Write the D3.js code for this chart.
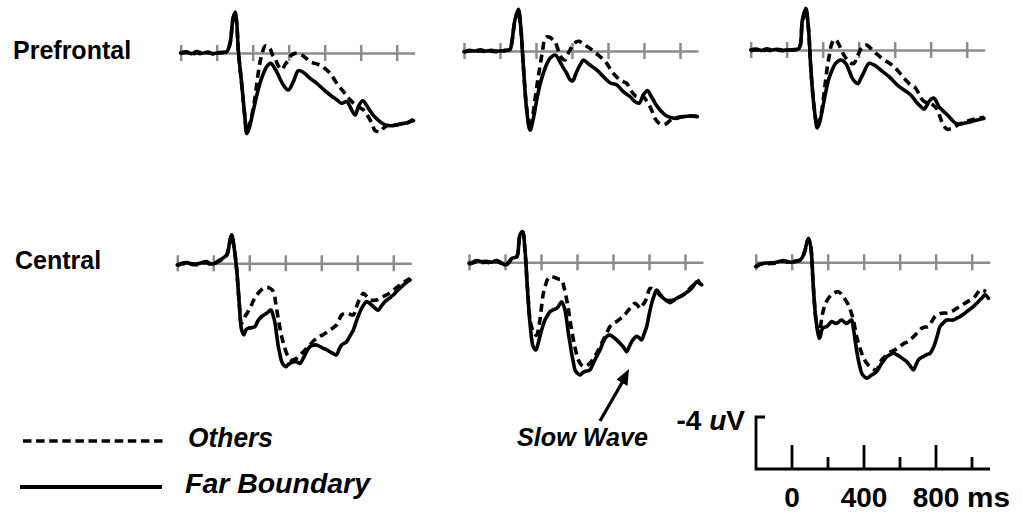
<!DOCTYPE html>
<html>
<head>
<meta charset="utf-8">
<script src="https://cdn.jsdelivr.net/npm/d3@7"></script>
<style>
  body { margin: 0; background: #fff; }
  svg { display: block; }
  text { font-family: "Liberation Sans", Arial, Helvetica, sans-serif; font-weight: bold; fill: #000; }
</style>
</head>
<body>
<svg id="chart" width="1022" height="514"></svg>
<script>
// ---- Grand-average ERP waveforms: [time (ms), amplitude (uV)], negative plotted up ----
const regions = ["Prefrontal", "Central"];
const timeTicks = [-200, 0, 200, 400, 600, 800, 1000];
const scaleTicks = [0, 200, 400, 600, 800, 1000];
const scaleLabels = [0, 400, 800];
const legendLabels = ["Others", "Far Boundary"];

const pf1Far = [[-200,0],[-170,-0.1],[-140,0.05],[-110,-0.12],[-80,0.02],[-50,-0.08],[-20,0.05],[0,0],[30,-0.05],[56,-0.1],[75,-0.8],[90,-2.6],[102,-3.15],[112,-2.2],[120,-0.2],[139,2.4],[157,5.0],[167,6.2],[178,5.9],[204,4.4],[241,2.3],[278,1.05],[300,0.8],[333,1.44],[370,2.46],[398,2.85],[426,2.2],[454,1.36],[482,1.5],[519,1.95],[556,2.33],[593,2.8],[630,3.23],[667,3.6],[694,3.87],[722,3.74],[750,4.38],[769,4.77],[787,4.13],[811,3.67],[843,4.26],[880,4.95],[926,5.46],[963,5.6],[1019,5.46],[1056,5.36],[1093,5.2]];
const pf1Oth = [[-200,0.05],[-170,-0.05],[-140,0.1],[-110,0],[-80,0.08],[-50,-0.02],[-20,0.08],[0,0.02],[30,-0.02],[56,-0.1],[75,-0.8],[90,-2.6],[102,-3.05],[112,-2.1],[120,-0.2],[139,2.4],[157,5.0],[167,6.0],[180,5.6],[194,4.9],[213,3.4],[228,1.8],[241,0.7],[255,-0.1],[269,-0.54],[283,-0.5],[296,-0.36],[310,0.15],[324,0.41],[343,1.0],[361,1.26],[380,0.9],[398,0.54],[417,0.15],[435,0.03],[454,0.05],[472,0.15],[496,0.4],[519,0.67],[546,0.8],[574,0.92],[602,1.2],[630,1.56],[667,2.33],[704,2.97],[741,3.6],[778,4.08],[815,4.38],[833,4.7],[852,5.15],[867,5.6],[880,5.97],[907,6.05],[926,5.8],[944,5.6],[972,5.5],[1000,5.54],[1028,5.45],[1056,5.4],[1093,5.1]];

const pf2Far = [[-200,0.05],[-170,-0.05],[-140,0],[-110,-0.1],[-80,0],[-50,-0.05],[-20,0],[0,0],[30,-0.05],[56,-0.13],[65,-0.6],[83,-2.4],[102,-3.2],[115,-1.9],[130,1.2],[148,4.5],[167,6.1],[185,5.2],[204,3.77],[222,2.6],[241,1.7],[260,1.0],[278,0.56],[306,0.31],[333,0.82],[352,1.3],[370,1.7],[389,2.2],[404,2.3],[420,1.8],[435,1.33],[450,0.95],[463,0.69],[480,0.85],[500,1.08],[537,1.46],[574,1.97],[611,2.44],[648,2.6],[685,3.13],[722,3.5],[750,3.9],[774,4.0],[796,3.38],[820,3.05],[836,3.4],[852,3.77],[870,4.2],[889,4.54],[912,4.85],[935,5.05],[960,5.15],[981,5.18],[1000,5.1],[1019,5.05],[1056,5.0],[1096,5.05]];
const pf2Oth = [[-200,0.1],[-170,0],[-140,0.05],[-110,0],[-80,0.05],[-50,0.02],[-20,0.05],[0,0.02],[30,-0.03],[56,-0.12],[65,-0.6],[83,-2.3],[102,-3.1],[115,-1.85],[130,1.2],[148,4.4],[167,6.0],[180,5.2],[194,3.77],[208,2.4],[222,1.2],[236,0.0],[250,-0.97],[264,-1.1],[278,-1.05],[292,-0.9],[306,-0.72],[320,-0.2],[333,0.31],[347,0.6],[361,0.69],[375,0.3],[389,-0.08],[407,-0.5],[426,-0.72],[440,-0.75],[454,-0.64],[477,-0.4],[500,-0.2],[523,0.05],[546,0.31],[570,0.6],[593,0.95],[611,1.35],[630,1.72],[648,2.0],[667,2.23],[685,2.35],[704,2.49],[718,2.8],[732,3.13],[745,3.35],[759,3.5],[778,3.45],[796,3.5],[815,3.85],[833,4.28],[847,4.7],[861,5.18],[875,5.45],[889,5.6],[905,5.65],[922,5.6],[940,5.4],[963,5.18],[990,5.1],[1019,5.05],[1056,5.0],[1096,5.0]];

const pf3Far = [[-200,0],[-170,-0.08],[-140,0.03],[-110,-0.1],[-80,0],[-50,-0.06],[-20,0.02],[0,0],[40,-0.03],[69,-0.13],[87,-2.3],[106,-3.2],[120,-1.8],[137,2.05],[156,4.87],[170,6.0],[184,5.5],[198,4.6],[216,3.3],[235,2.18],[254,1.5],[272,1.03],[300,0.77],[328,1.03],[347,1.6],[365,2.18],[380,2.45],[396,2.6],[411,2.2],[426,1.8],[441,1.35],[457,1.03],[485,1.15],[522,1.54],[569,2.05],[615,2.7],[652,3.08],[689,3.46],[726,4.1],[745,4.35],[763,4.56],[777,4.3],[791,3.97],[805,3.75],[819,3.7],[833,4.0],[846,4.36],[870,4.7],[893,5.0],[916,5.35],[939,5.64],[962,5.7],[985,5.64],[1013,5.55],[1041,5.44],[1069,5.35],[1096,5.26]];
const pf3Oth = [[-200,0.05],[-170,0],[-140,0.08],[-110,0],[-80,0.06],[-50,0],[-20,0.06],[0,0.02],[40,0],[69,-0.12],[87,-2.2],[106,-3.1],[120,-1.75],[137,2.0],[156,4.8],[170,5.9],[184,5.4],[198,4.36],[212,2.8],[226,1.28],[237,0.4],[248,-0.38],[258,-0.7],[267,-0.82],[283,-0.6],[300,-0.13],[318,0.4],[337,0.77],[355,1.0],[374,1.03],[392,0.5],[411,-0.05],[427,-0.3],[444,-0.38],[465,-0.15],[485,0.13],[513,0.45],[541,0.77],[569,1.0],[596,1.28],[624,1.7],[652,2.18],[671,2.45],[689,2.7],[703,2.8],[717,2.95],[736,3.4],[754,3.85],[777,4.05],[800,4.1],[818,4.3],[837,4.6],[851,5.1],[865,5.64],[879,5.95],[893,6.1],[912,6.05],[930,5.95],[953,5.75],[976,5.6],[1008,5.45],[1041,5.33],[1069,5.25],[1096,5.18]];

const c1Far = [[-200,0.13],[-175,0],[-148,-0.05],[-120,0.03],[-93,0.05],[-65,-0.05],[-37,-0.13],[-18,0.02],[0,0.05],[37,-0.26],[74,-0.64],[93,-1.8],[102,-2.2],[115,-1.28],[130,0.5],[144,3.08],[157,5.1],[170,5.5],[182,5.1],[194,5.0],[212,4.95],[231,4.87],[245,4.5],[259,4.23],[278,4.0],[296,3.85],[320,3.6],[332,4.0],[343,4.6],[352,5.5],[361,6.4],[370,7.0],[380,7.56],[392,7.85],[404,7.95],[415,7.8],[426,7.7],[440,7.6],[454,7.56],[468,7.6],[481,7.7],[500,7.3],[518,6.8],[537,6.4],[555,6.3],[574,6.28],[592,6.4],[611,6.54],[630,6.65],[648,6.8],[667,6.95],[685,7.05],[699,6.6],[713,6.28],[727,6.15],[741,6.03],[759,5.6],[778,5.13],[796,4.4],[815,3.72],[833,3.25],[852,2.95],[870,3.1],[889,3.33],[903,3.5],[917,3.6],[935,3.25],[954,2.95],[977,2.7],[1000,2.44],[1023,2.1],[1046,1.8],[1070,1.5],[1093,1.28]];
const c1Oth = [[-200,0.18],[-175,0.05],[-148,0],[-120,0.08],[-93,0.1],[-65,0],[-37,-0.05],[-18,0.08],[0,0.05],[37,-0.2],[74,-0.6],[93,-1.75],[102,-2.15],[115,-1.25],[130,0.5],[144,3.0],[157,4.6],[176,4.1],[204,3.46],[222,2.9],[241,2.44],[259,2.15],[278,1.92],[296,1.85],[315,1.92],[327,2.05],[337,2.3],[346,3.0],[356,3.85],[368,4.8],[380,5.64],[393,6.3],[407,6.92],[421,7.25],[435,7.44],[449,7.4],[463,7.3],[481,7.05],[500,6.8],[518,6.55],[537,6.28],[555,6.0],[574,5.77],[592,5.6],[611,5.5],[630,5.3],[648,5.13],[667,4.95],[685,4.74],[699,4.35],[713,3.97],[731,3.85],[750,3.85],[764,3.95],[778,3.97],[792,3.5],[806,2.95],[820,2.6],[833,2.3],[852,2.55],[870,2.82],[889,2.85],[907,2.82],[926,2.7],[944,2.56],[967,2.4],[991,2.18],[1014,1.92],[1037,1.67],[1065,1.4],[1093,1.15]];

const c2Far = [[-200,0.08],[-180,0],[-157,-0.13],[-130,-0.05],[-102,-0.08],[-74,0],[-46,-0.13],[-20,0.05],[0,0.2],[20,0],[37,-0.3],[65,-0.44],[83,-2.1],[98,-2.36],[111,-0.95],[124,1.87],[139,4.7],[157,6.5],[172,6.74],[183,6.3],[194,5.7],[208,5.0],[222,4.44],[236,4.1],[250,3.8],[268,3.65],[287,3.54],[301,3.3],[315,3.03],[333,3.67],[343,4.5],[352,5.46],[361,6.2],[370,7.0],[380,7.7],[389,8.28],[403,8.55],[417,8.67],[431,8.5],[444,8.4],[458,8.35],[472,8.28],[486,7.9],[500,7.5],[514,7.1],[528,6.74],[542,6.25],[556,5.85],[570,5.65],[583,5.6],[597,5.7],[611,5.85],[630,6.1],[648,6.36],[662,6.6],[676,6.87],[690,6.5],[704,6.1],[718,5.85],[731,5.7],[745,5.8],[759,5.97],[773,5.5],[787,4.95],[801,4.0],[815,3.15],[829,2.55],[843,2.13],[861,2.45],[880,2.77],[898,2.95],[917,3.1],[935,2.95],[954,2.77],[972,2.65],[991,2.5],[1010,2.3],[1028,2.13],[1046,1.85],[1065,1.5],[1079,1.6],[1093,1.74]];
const c2Oth = [[-200,0.15],[-180,0.05],[-157,-0.05],[-130,0.02],[-102,0],[-74,0.05],[-46,-0.05],[-20,0.1],[0,0.25],[20,0.05],[37,-0.25],[65,-0.4],[83,-2.05],[98,-2.3],[111,-0.9],[124,1.85],[139,4.4],[148,5.0],[162,5.5],[176,5.6],[185,5.2],[194,4.44],[204,3.3],[213,2.38],[224,1.8],[235,1.36],[247,1.15],[259,1.1],[273,1.15],[287,1.23],[301,1.3],[315,1.36],[329,2.0],[343,2.9],[352,3.6],[361,4.44],[370,5.2],[380,5.97],[393,6.8],[407,7.5],[421,7.85],[435,8.0],[454,7.95],[472,7.77],[490,7.4],[509,7.0],[528,6.5],[546,5.97],[565,5.45],[583,4.95],[602,4.7],[620,4.56],[639,4.35],[657,4.18],[676,3.85],[694,3.54],[708,3.3],[722,3.15],[736,3.3],[750,3.54],[764,3.3],[778,3.03],[792,2.5],[806,2.0],[824,2.1],[843,2.26],[866,2.6],[889,2.9],[912,2.95],[935,2.9],[963,2.7],[991,2.5],[1014,2.2],[1037,1.87],[1060,1.6],[1083,1.36]];

const c3Far = [[-200,0.33],[-180,0.15],[-157,0.08],[-130,0.05],[-102,0.03],[-74,-0.05],[-46,-0.13],[-20,-0.05],[0,0],[20,-0.1],[46,-0.18],[60,-0.4],[74,-0.95],[93,-1.85],[106,-1.2],[120,1.87],[135,4.44],[154,5.85],[161,5.6],[167,5.2],[180,5.0],[194,4.95],[208,4.75],[222,4.56],[236,4.65],[250,4.7],[264,4.55],[278,4.44],[292,4.6],[306,4.7],[320,4.55],[333,4.44],[343,5.1],[352,5.97],[361,6.8],[370,7.5],[380,8.1],[389,8.54],[403,8.8],[417,8.92],[431,8.8],[444,8.67],[458,8.55],[472,8.4],[486,8.1],[500,7.77],[514,7.5],[528,7.26],[546,7.1],[565,7.0],[583,7.1],[602,7.26],[620,7.45],[639,7.64],[657,7.95],[676,8.28],[690,7.9],[704,7.5],[718,7.35],[731,7.26],[750,7.1],[769,7.0],[782,6.7],[796,6.23],[810,5.6],[824,4.95],[843,4.65],[861,4.44],[880,4.44],[898,4.44],[917,4.3],[935,4.18],[954,4.0],[972,3.8],[991,3.6],[1009,3.41],[1028,3.15],[1046,2.9],[1060,2.7],[1074,2.5],[1093,2.77]];
const c3Oth = [[-200,0.38],[-180,0.2],[-157,0.12],[-130,0.1],[-102,0.08],[-74,0],[-46,-0.08],[-20,0],[0,0.05],[20,-0.05],[46,-0.15],[60,-0.38],[74,-0.9],[93,-1.8],[106,-1.15],[120,1.85],[135,4.4],[150,5.4],[157,5.2],[166,4.4],[176,3.67],[190,3.1],[204,2.77],[218,2.55],[231,2.38],[245,2.3],[259,2.26],[273,2.4],[287,2.64],[301,2.95],[315,3.28],[329,3.8],[343,4.44],[352,5.1],[361,5.72],[375,6.4],[389,7.0],[403,7.45],[417,7.77],[431,8.0],[444,8.15],[458,8.25],[472,8.28],[486,7.9],[500,7.5],[518,7.25],[537,7.0],[555,6.85],[574,6.74],[592,6.55],[611,6.36],[630,6.2],[648,6.1],[667,5.85],[685,5.6],[704,5.35],[722,5.08],[741,4.98],[759,4.95],[778,4.55],[796,4.18],[815,4.0],[833,3.92],[852,3.9],[870,3.92],[894,3.75],[917,3.54],[940,3.35],[963,3.15],[986,2.95],[1009,2.77],[1028,2.45],[1046,2.13],[1063,2.15],[1080,2.26]];

// panels by row (region) and column
const panelSeries = [
  [[pf1Far, pf1Oth], [pf2Far, pf2Oth], [pf3Far, pf3Oth]],
  [[c1Far, c1Oth], [c2Far, c2Oth], [c3Far, c3Oth]]
];

// ---- layout ----
const panelLeft = [[180.7, 464, 750.7], [177.3, 469, 755.7]];
const panelZeroY = [[53, 51, 50], [263.3, 262.3, 262.3]];
const axisGray = "#8c8c8c";
const curveWidth = 3.6;

const svg = d3.select("#chart");

// time scale (-200 .. 1100 ms) and amplitude scale (13 px per uV, negative up)
const x = d3.scaleLinear().domain([-200, 1100]).range([0, 234]);
const y = d3.scaleLinear().domain([-4, 0]).range([-52, 0]);

const line = d3.line()
  .x(d => x(d[0]))
  .y(d => y(d[1]))
  .curve(d3.curveCatmullRom.alpha(0.5));

// region labels
const regionLabelPos = [[13, 59], [15, 269]];
regions.forEach((name, r) => {
  svg.append("text")
    .attr("x", regionLabelPos[r][0])
    .attr("y", regionLabelPos[r][1])
    .style("font-size", "25px")
    .text(name);
});

panelSeries.forEach((row, r) => {
  row.forEach((pair, c) => {
    const g = svg.append("g")
      .attr("transform", `translate(${panelLeft[r][c]},${panelZeroY[r][c]})`);

    // zero line with crossing ticks every 200 ms
    const ax = g.append("g")
      .call(d3.axisBottom(x).tickValues(timeTicks).tickSize(16).tickSizeOuter(0).tickFormat(""));
    ax.select(".domain").attr("stroke", axisGray).attr("stroke-width", 2.5);
    ax.selectAll(".tick line")
      .attr("y1", -8).attr("y2", 8)
      .attr("stroke", axisGray).attr("stroke-width", 2.5);

    const [far, others] = pair;
    g.append("path")
      .datum(others)
      .attr("d", line)
      .attr("fill", "none")
      .attr("stroke", "#000")
      .attr("stroke-width", curveWidth)
      .attr("stroke-dasharray", "8,5")
      .attr("stroke-linejoin", "round");
    g.append("path")
      .datum(far)
      .attr("d", line)
      .attr("fill", "none")
      .attr("stroke", "#000")
      .attr("stroke-width", curveWidth)
      .attr("stroke-linejoin", "round")
      .attr("stroke-linecap", "round");
  });
});

// ---- legend ----
const legend = svg.append("g");
legend.append("line")
  .attr("x1", 23).attr("x2", 166).attr("y1", 441).attr("y2", 441)
  .attr("stroke", "#000").attr("stroke-width", 3.6).attr("stroke-dasharray", "8.5,4.6");
legend.append("line")
  .attr("x1", 20).attr("x2", 162).attr("y1", 487).attr("y2", 487)
  .attr("stroke", "#000").attr("stroke-width", 3.8);
legend.append("text").attr("x", 188).attr("y", 447)
  .attr("textLength", 85).attr("lengthAdjust", "spacingAndGlyphs")
  .style("font-size", "27px").style("font-style", "italic").text(legendLabels[0]);
legend.append("text").attr("x", 185).attr("y", 493)
  .attr("textLength", 185).attr("lengthAdjust", "spacingAndGlyphs")
  .style("font-size", "27px").style("font-style", "italic").text(legendLabels[1]);

// ---- slow wave annotation ----
const ann = svg.append("g");
ann.append("line")
  .attr("x1", 600).attr("y1", 421).attr("x2", 623).attr("y2", 381)
  .attr("stroke", "#000").attr("stroke-width", 3.2);
ann.append("polygon")
  .attr("points", "629,369 627.5,386 616.5,379.5")
  .attr("fill", "#000");
ann.append("text").attr("x", 517).attr("y", 446)
  .attr("textLength", 131).attr("lengthAdjust", "spacingAndGlyphs")
  .style("font-size", "25px").style("font-style", "italic").text("Slow Wave");

// ---- calibration bar ----
const sb = svg.append("g").attr("transform", "translate(756,469)");
sb.append("path")
  .attr("d", `M9,${y(-4)}H0V0H${x(1100)}`)
  .attr("fill", "none").attr("stroke", "#000").attr("stroke-width", 2.8);
sb.selectAll("line.tk")
  .data(scaleTicks)
  .join("line")
  .attr("class", "tk")
  .attr("x1", d => x(d)).attr("x2", d => x(d))
  .attr("y1", 0).attr("y2", d => (d % 400 === 0 ? -24 : -12))
  .attr("stroke", "#000").attr("stroke-width", 2.8);
sb.selectAll("text.lb")
  .data(scaleLabels)
  .join("text")
  .attr("class", "lb")
  .attr("x", d => x(d)).attr("y", 38)
  .attr("text-anchor", "middle")
  .style("font-size", "28px")
  .text(d => d);
sb.append("text").attr("x", x(800) + 31).attr("y", 38)
  .attr("textLength", 43).attr("lengthAdjust", "spacingAndGlyphs")
  .style("font-size", "28px").text("ms");
const cal = sb.append("text").attr("x", -11).attr("y", y(-4) + 13)
  .attr("text-anchor", "end").style("font-size", "28px");
cal.append("tspan").text("-4 ");
cal.append("tspan").style("font-style", "italic").text("u");
cal.append("tspan").text("V");
</script>
</body>
</html>
